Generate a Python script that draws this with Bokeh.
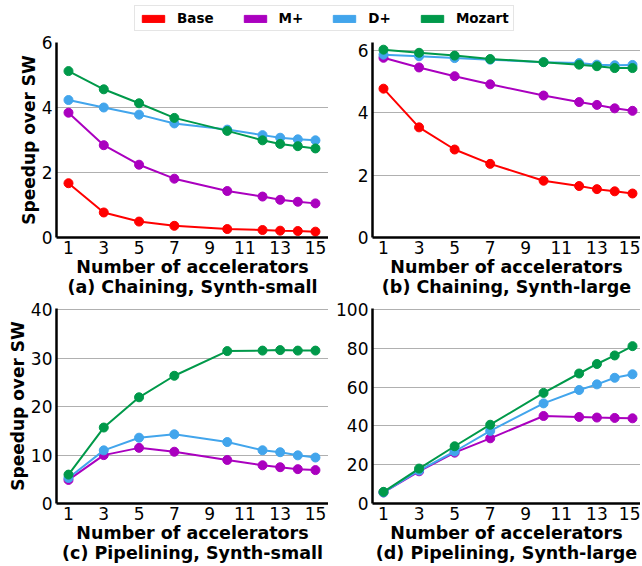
from bokeh.plotting import figure
from bokeh.layouts import column, row
from bokeh.models import Range1d, FixedTicker, Legend, LegendItem, Title, ColumnDataSource
from bokeh.embed import file_html
from bokeh.resources import INLINE

# ---------------- data ----------------
accelerators = [1, 3, 5, 7, 10, 12, 13, 14, 15]
x_ticks = [1, 3, 5, 7, 9, 11, 13, 15]
series_names = ["Base", "M+", "D+", "Mozart"]
series_colors = ["#FF0000", "#AA00BF", "#42A5EC", "#00994A"]

# (a) Chaining, Synth-small
a_base = [1.67, 0.77, 0.49, 0.36, 0.26, 0.23, 0.21, 0.20, 0.18]
a_mplus = [3.84, 2.84, 2.24, 1.81, 1.43, 1.26, 1.16, 1.10, 1.05]
a_dplus = [4.23, 4.00, 3.78, 3.51, 3.32, 3.15, 3.07, 3.02, 2.99]
a_mozart = [5.12, 4.56, 4.13, 3.68, 3.28, 2.99, 2.88, 2.81, 2.74]

# (b) Chaining, Synth-large
b_base = [4.77, 3.53, 2.82, 2.36, 1.82, 1.65, 1.55, 1.48, 1.41]
b_mplus = [5.76, 5.45, 5.17, 4.91, 4.55, 4.34, 4.25, 4.14, 4.06]
b_dplus = [5.86, 5.81, 5.75, 5.70, 5.62, 5.59, 5.54, 5.52, 5.53]
b_mozart = [6.02, 5.92, 5.83, 5.72, 5.62, 5.54, 5.49, 5.43, 5.43]

# (c) Pipelining, Synth-small
c_mplus = [4.87, 10.0, 11.5, 10.7, 9.0, 7.9, 7.5, 7.1, 6.9]
c_dplus = [5.28, 10.98, 13.6, 14.3, 12.7, 11.0, 10.6, 9.95, 9.5]
c_mozart = [5.97, 15.7, 21.95, 26.4, 31.5, 31.6, 31.7, 31.6, 31.6]

# (d) Pipelining, Synth-large
d_mplus = [5.7, 16.6, 26.2, 33.6, 45.1, 44.6, 44.3, 44.1, 43.9]
d_dplus = [5.7, 17.0, 26.8, 37.4, 51.6, 58.5, 61.4, 64.8, 66.6]
d_mozart = [6.0, 18.0, 29.5, 40.6, 57.0, 67.0, 71.9, 76.3, 81.1]

a_yticks = [0, 2, 4, 6]
b_yticks = [0, 2, 4, 6]
c_yticks = [0, 10, 20, 30, 40]
d_yticks = [0, 20, 40, 60, 80, 100]

x_title = "Number of accelerators"
y_title = "Speedup over SW"
sub_a = "(a) Chaining, Synth-small"
sub_b = "(b) Chaining, Synth-large"
sub_c = "(c) Pipelining, Synth-small"
sub_d = "(d) Pipelining, Synth-large"

FONT = "DejaVu Sans"
NAN = float("nan")


def panel(sub, series, ymax, yticks, xr, width, height, left, top, bottom, ylabel):
    p = figure(width=width, height=height, output_backend="svg", toolbar_location=None,
               x_range=Range1d(*xr), y_range=Range1d(0, ymax),
               min_border_left=left, min_border_right=0,
               min_border_top=top, min_border_bottom=bottom)
    p.outline_line_color = None
    p.xgrid.visible = False
    p.ygrid.grid_line_color = "#b0b0b0"
    p.ygrid.grid_line_width = 1
    p.xaxis.ticker = FixedTicker(ticks=x_ticks)
    p.yaxis.ticker = FixedTicker(ticks=yticks)
    for ax in (p.xaxis[0], p.yaxis[0]):
        ax.axis_line_width = 2.5
        ax.axis_line_color = "black"
        ax.major_tick_out = 0
        ax.major_tick_in = 0
        ax.minor_tick_out = 0
        ax.minor_tick_in = 0
        ax.major_label_text_font = FONT
        ax.major_label_text_font_size = "17px"
        ax.major_label_text_color = "black"
        ax.axis_label_text_font = FONT
        ax.axis_label_text_font_style = "bold"
        ax.axis_label_text_color = "black"
    p.xaxis.major_label_standoff = 3
    p.yaxis.major_label_standoff = 4
    p.xaxis.axis_label = x_title
    p.xaxis.axis_label_text_font_size = "17.5px"
    p.xaxis.axis_label_standoff = 0
    if ylabel:
        p.yaxis.axis_label = y_title
        p.yaxis.axis_label_text_font_size = "17px"
        p.yaxis.axis_label_standoff = 0
    for name, ys in series:
        col = series_colors[series_names.index(name)]
        src = ColumnDataSource(dict(x=accelerators, y=ys))
        p.line("x", "y", source=src, line_color=col, line_width=2)
        p.scatter("x", "y", source=src, size=9, fill_color=col, line_color=col)
    t = Title(text=sub, align="center", vertical_align="top", text_font=FONT,
              text_font_size="17.5px", text_font_style="bold", text_color="black",
              standoff=-6, offset=0)
    p.add_layout(t, "below")
    return p


XR_L = (0.32, 15.74)
XR_R = (0.382, 15.45)

pa = panel(sub_a, [("Base", a_base), ("M+", a_mplus), ("D+", a_dplus), ("Mozart", a_mozart)],
           6, a_yticks, XR_L, 328, 266, 56, 10, 61, True)
pb = panel(sub_b, [("Base", b_base), ("M+", b_mplus), ("D+", b_dplus), ("Mozart", b_mozart)],
           6.25, b_yticks, XR_R, 312, 266, 44, 10, 61, False)
pc = panel(sub_c, [("M+", c_mplus), ("D+", c_dplus), ("Mozart", c_mozart)],
           40.3, c_yticks, XR_L, 328, 266, 56, 10, 61, True)
pd = panel(sub_d, [("M+", d_mplus), ("D+", d_dplus), ("Mozart", d_mozart)],
           100.5, d_yticks, XR_R, 312, 266, 44, 10, 61, False)

# legend strip
pl = figure(width=640, height=32, output_backend="svg", toolbar_location=None,
            x_axis_type=None, y_axis_type=None, x_range=Range1d(0, 1), y_range=Range1d(0, 1),
            min_border=0)
pl.outline_line_color = None
pl.grid.visible = False
items = []
for name, col in zip(series_names, series_colors):
    r = pl.quad(left=[NAN], right=[NAN], top=[NAN], bottom=[NAN], fill_color=col, line_color=col)
    items.append(LegendItem(label=name, renderers=[r]))
leg = Legend(items=items, orientation="horizontal", location=(134, 1),
             glyph_width=28, glyph_height=9, label_standoff=10, spacing=27,
             padding=4, margin=0, label_height=12, label_width=10,
             label_text_font=FONT, label_text_font_size="13.5px",
             label_text_font_style="bold", label_text_color="black",
             border_line_color="#cccccc", border_line_width=1)
pl.add_layout(leg, "center")

layout = column(pl, row(pa, pb, spacing=0), row(pc, pd, spacing=0), spacing=0)

open("out.html", "w").write(file_html(layout, INLINE))
